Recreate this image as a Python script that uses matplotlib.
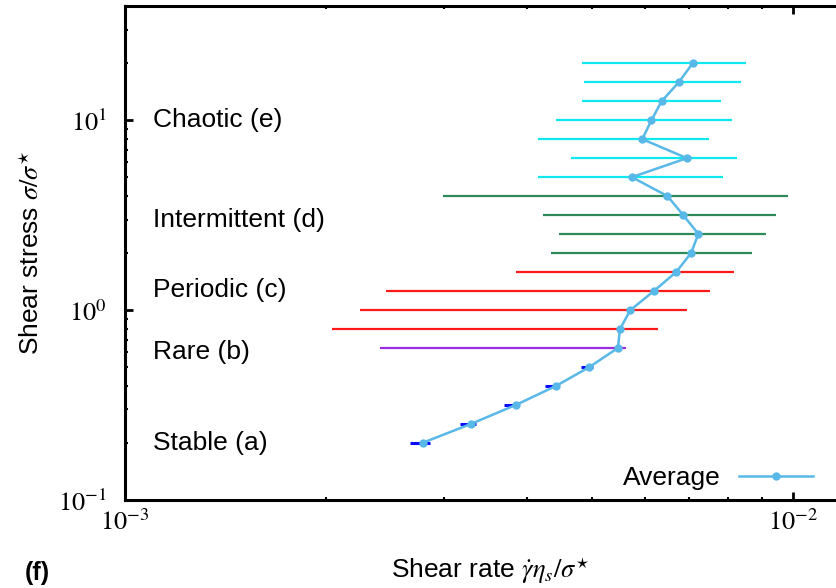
import matplotlib
matplotlib.use("Agg")
import matplotlib.pyplot as plt
from matplotlib.ticker import LogLocator, NullFormatter, FuncFormatter
import numpy as np

plt.rcParams['font.family'] = ['Liberation Sans', 'DejaVu Sans']
plt.rcParams['mathtext.fontset'] = 'stix'

# shear stress (sigma / sigma*)
stress = [0.2, 0.252, 0.317, 0.399, 0.502, 0.632, 0.796, 1.0, 1.26, 1.59,
          2.0, 2.52, 3.17, 3.99, 5.02, 6.32, 7.96, 10.0, 12.6, 15.9, 20.0]
# shear rate: average and range (min / max) over the run
rate_mean = [2.79e-3, 3.30e-3, 3.85e-3, 4.42e-3, 4.96e-3, 5.47e-3, 5.51e-3,
             5.71e-3, 6.19e-3, 6.69e-3, 7.04e-3, 7.22e-3, 6.85e-3, 6.49e-3,
             5.74e-3, 6.94e-3, 5.95e-3, 6.14e-3, 6.36e-3, 6.75e-3, 7.08e-3]
rate_min = [2.67e-3, 3.17e-3, 3.70e-3, 4.26e-3, 4.82e-3, 2.41e-3, 2.04e-3,
            2.25e-3, 2.46e-3, 3.85e-3, 4.34e-3, 4.46e-3, 4.22e-3, 2.99e-3,
            4.15e-3, 4.66e-3, 4.15e-3, 4.42e-3, 4.83e-3, 4.87e-3, 4.83e-3]
rate_max = [2.86e-3, 3.35e-3, 3.89e-3, 4.45e-3, 5.02e-3, 5.62e-3, 6.29e-3,
            6.93e-3, 7.52e-3, 8.17e-3, 8.68e-3, 9.10e-3, 9.45e-3, 9.82e-3,
            7.85e-3, 8.25e-3, 7.50e-3, 8.12e-3, 7.80e-3, 8.35e-3, 8.51e-3]
regime = (['stable'] * 5 + ['rare'] + ['periodic'] * 4
          + ['intermittent'] * 4 + ['chaotic'] * 7)

regime_colors = {
    'stable': '#0a0aff',
    'rare': '#9a2be0',
    'periodic': '#ff1a1a',
    'intermittent': '#2f8a5a',
    'chaotic': '#10e8f0',
}
# (label, stress where the label sits)
regime_labels = [
    ("Chaotic (e)", 10.0),
    ("Intermittent (d)", 3.0),
    ("Periodic (c)", 1.27),
    ("Rare (b)", 0.6),
    ("Stable (a)", 0.2),
]

fig = plt.figure(figsize=(8.36, 5.88), dpi=100)
ax = fig.add_axes([0.1495, 0.1497, 0.873, 0.840])

for i in range(len(stress)):
    lw = 2.2 if regime[i] == 'stable' else 1.6
    ax.plot([rate_min[i], rate_max[i]], [stress[i], stress[i]],
            c=regime_colors[regime[i]], lw=lw, solid_capstyle='butt', zorder=2)

ax.plot(rate_mean, stress, c='#58b8e8', lw=1.8, marker='o', ms=5,
        label="Average", zorder=3)

for txt, s in regime_labels:
    ax.text(1.1e-3, s, txt, fontsize=19, va='center', ha='left')

ax.set_xscale('log')
ax.set_yscale('log')
ax.set_xlim(1e-3, 1.238e-2)
ax.set_ylim(0.1, 40)

# serif powers of ten, like the gnuplot labels
pow_fmt = FuncFormatter(lambda v, pos: r'$10^{%d}$' % int(round(np.log10(v))))
ax.xaxis.set_major_formatter(pow_fmt)
ax.yaxis.set_major_formatter(pow_fmt)
ax.xaxis.set_minor_locator(LogLocator(base=10, subs=range(2, 10)))
ax.yaxis.set_minor_locator(LogLocator(base=10, subs=range(2, 10)))
ax.xaxis.set_minor_formatter(NullFormatter())
ax.yaxis.set_minor_formatter(NullFormatter())
ax.tick_params(which='both', direction='in', top=True, right=True, labelsize=19)
ax.tick_params(which='major', length=6, width=2)
ax.tick_params(which='minor', length=2.5, width=1.5)
ax.tick_params(axis='x', which='major', pad=7)
ax.tick_params(axis='y', which='major', pad=13)
for sp in ax.spines.values():
    sp.set_linewidth(2.2)

ax.set_xlabel(r"Shear rate $\dot{\gamma}\eta_s/\sigma^{\star}$", fontsize=19, labelpad=14)
ax.set_ylabel(r"Shear stress $\sigma/\sigma^{\star}$", fontsize=19, labelpad=10)

ax.legend(loc='center right', bbox_to_anchor=(0.9725, 0.187),
          bbox_transform=fig.transFigure, frameon=False, fontsize=19,
          markerfirst=False, handlelength=2.8, handletextpad=0.7,
          borderpad=0, borderaxespad=0)

fig.text(0.03, 0.025, "(f)", fontsize=18, fontweight='bold', va='center')

fig.savefig("out.png", dpi=100)
